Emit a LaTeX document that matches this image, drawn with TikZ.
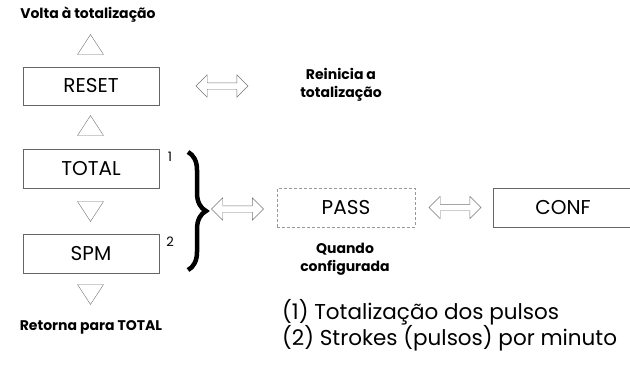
\documentclass[tikz,border=0pt]{standalone}
\usepackage{fontspec}
\setmainfont{Poppins}
\usetikzlibrary{shapes.geometric,shapes.arrows,decorations.pathreplacing,positioning}

\begin{document}
\begin{tikzpicture}[x=1pt,y=-1pt,
    box/.style={draw=black!60,minimum width=136pt,minimum height=38.5pt,inner sep=0pt,font=\fontsize{20}{22}\selectfont},
    passbox/.style={box,draw=black!40,dash pattern=on 3pt off 2pt,minimum width=138pt},
    tri/.style={draw=black!55,isosceles triangle,isosceles triangle stretches,minimum width=26pt,minimum height=20pt,inner sep=0pt},
    dblarrow/.style={draw=black!55,double arrow,double arrow head extend=8pt,minimum height=52pt,inner sep=3pt},
    note/.style={font=\bfseries\fontsize{14}{18.5}\selectfont,align=center},
    fnmark/.style={font=\fontsize{13}{15}\selectfont,inner sep=0pt}]

    \useasboundingbox (0,0) rectangle (630,373);

    % left column
    \node[note] (volta) at (88,15) {Volta à totalização};
    \node[tri,shape border rotate=90,anchor=apex] (up1) at (90.5,34) {};
    \node[box] (reset) at (91,86) {RESET};
    \node[tri,shape border rotate=90,anchor=apex] (up2) at (90.5,115) {};
    \node[box] (total) at (91,168.5) {TOTAL};
    \node[tri,shape border rotate=-90,anchor=apex] (down1) at (90.5,222) {};
    \node[box] (spm) at (91,253.5) {SPM};
    \node[tri,shape border rotate=-90,anchor=apex] (down2) at (90.5,305) {};
    \node[note] (retorna) at (91,327) {Retorna para TOTAL};

    \node[fnmark] (fn1) at (170,157) {1};
    \node[fnmark] (fn2) at (170,242) {2};

    % brace
    \coordinate (bt) at (188,152);
    \coordinate (bb) at (188,270);
    \draw[decorate,decoration={brace,amplitude=18pt},line width=4.5pt] (bt) -- (bb);

    % double arrows
    \node[dblarrow] (dreset) at (222,86) {};
    \node[note] (reinicia) at (341,85) {Reinicia a\\totalização};
    \node[dblarrow] (dpass) at (237.5,209) {};
    \node[passbox] (pass) at (346,207.5) {PASS};
    \node[note] (quando) at (345,259) {Quando\\configurada};
    \node[dblarrow] (dconf) at (455,207.5) {};
    \node[box,minimum width=140pt] (conf) at (563,207.5) {CONF};

    % legend
    \node[anchor=west,align=left,inner sep=0pt,font=\fontsize{21.5}{26}\selectfont] (legenda) at (282,325) {(1) Totalização dos pulsos\\(2) Strokes (pulsos) por minuto};

\end{tikzpicture}
\end{document}
